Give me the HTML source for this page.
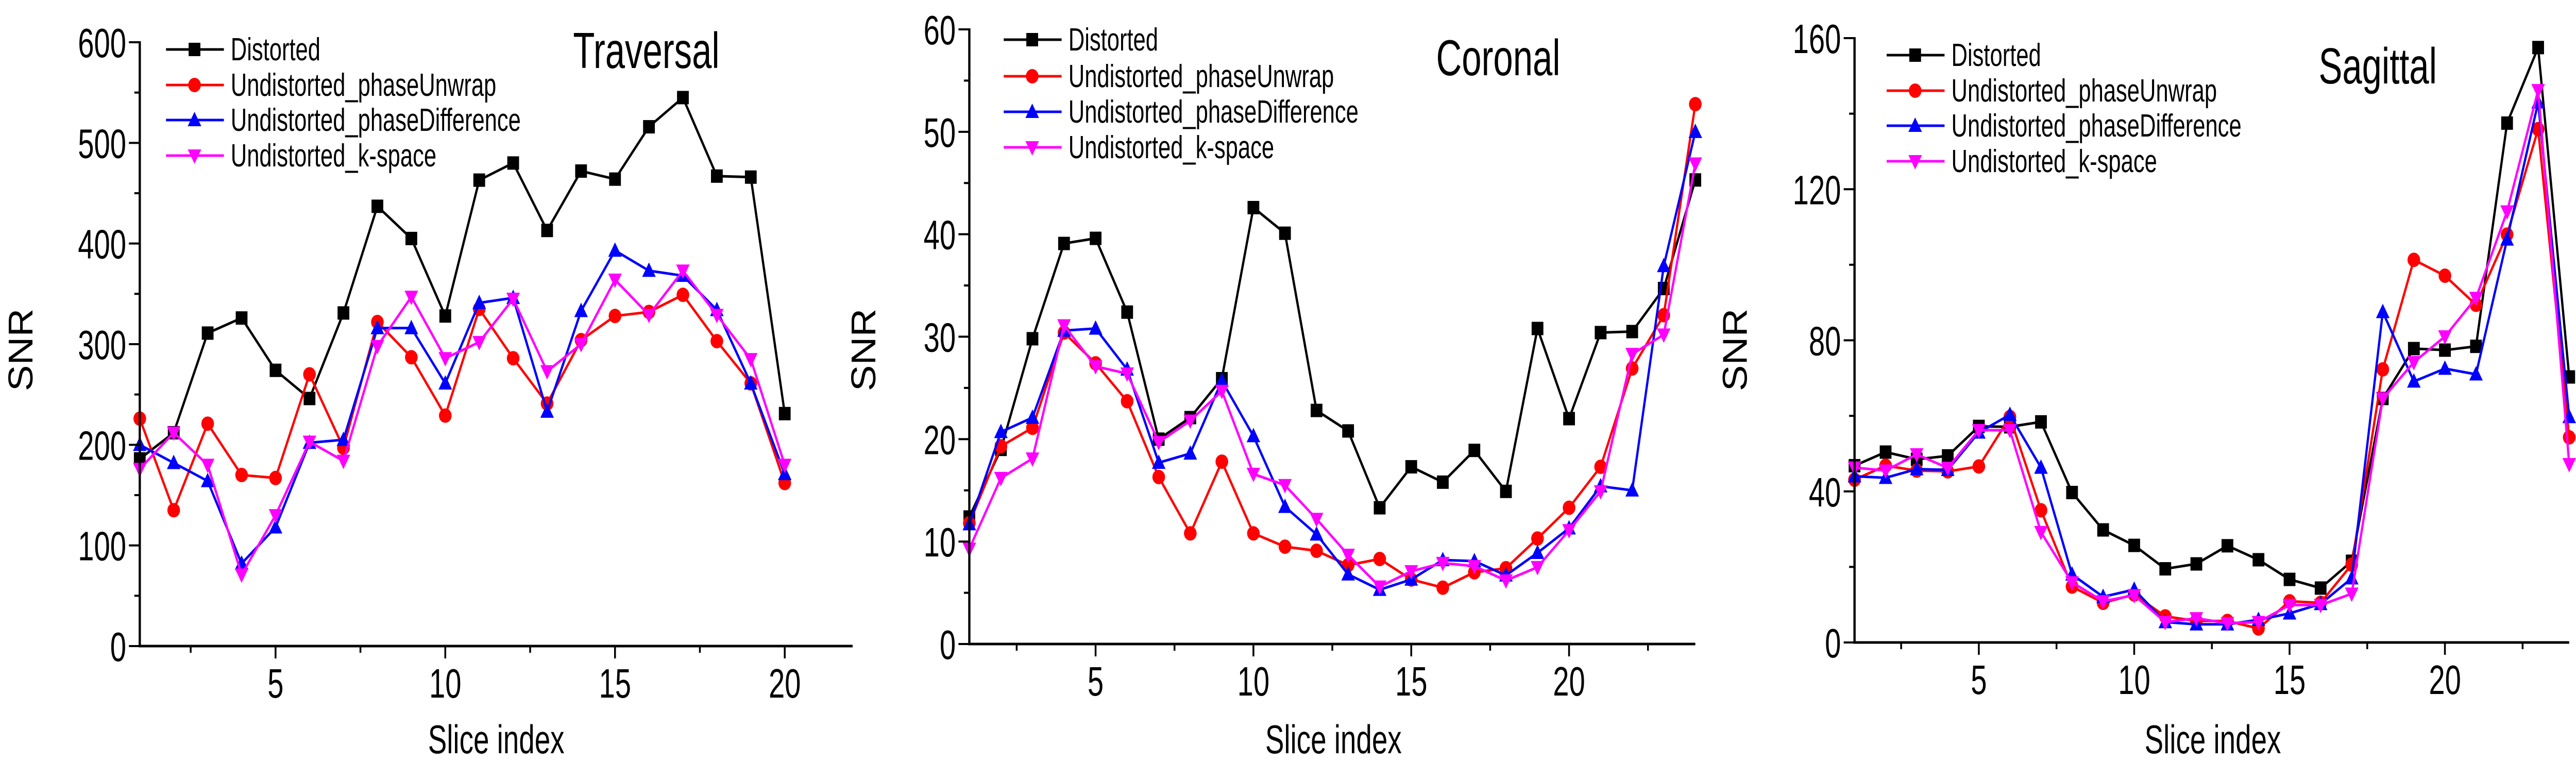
<!DOCTYPE html>
<html><head><meta charset="utf-8">
<style>
html,body{margin:0;padding:0;background:#fff;width:100%;height:100%;overflow:hidden;}
svg{display:block;width:100vw;height:100vh;}
text{font-family:"Liberation Sans",sans-serif;fill:#000;}
</style></head>
<body>
<svg id="chart" viewBox="0 0 5695 1479" preserveAspectRatio="none" xmlns="http://www.w3.org/2000/svg"></svg>
<script>
// ---- data ----
const seriesNames = ["Distorted","Undistorted_phaseUnwrap","Undistorted_phaseDifference","Undistorted_k-space"];
const travDistorted = [186,212,311,326,274,246,331,437,405,328,463,480,413,472,464,516,545,467,466,231];
const travUnwrap = [226,135,221,170,167,270,197,322,287,229,335,286,241,304,328,332,349,303,261,162];
const travDiff = [200,182,164,82,118,202,205,316,316,261,341,346,233,333,393,373,368,334,261,171];
const travKspace = [176,212,180,71,130,203,184,298,347,286,302,345,273,300,364,329,373,329,285,180];
const corDistorted = [12.4,19.0,29.8,39.1,39.6,32.4,20.0,22.1,25.9,42.6,40.1,22.8,20.8,13.3,17.3,15.8,18.9,14.9,30.8,22.0,30.4,30.5,34.7,45.3];
const corUnwrap = [11.8,19.3,21.1,30.4,27.4,23.7,16.3,10.8,17.8,10.8,9.5,9.1,7.7,8.3,6.3,5.5,7.0,7.4,10.3,13.3,17.3,26.9,32.1,52.7];
const corDiff = [11.7,20.7,22.1,30.6,30.8,26.8,17.7,18.6,25.7,20.3,13.4,10.7,6.8,5.3,6.3,8.2,8.1,6.7,8.9,11.3,15.4,15.0,36.9,50.0];
const corKspace = [9.3,16.2,18.1,31.1,27.1,26.4,19.7,21.8,24.7,16.6,15.5,12.2,8.7,5.6,7.1,7.9,7.6,6.2,7.5,11.1,14.9,28.3,30.2,46.9];
const sagDistorted = [46.8,50.4,48.5,49.4,57.2,57.1,58.4,39.7,29.8,25.7,19.5,20.8,25.6,21.9,16.7,14.4,21.5,64.6,77.8,77.4,78.4,137.5,157.5,70.3];
const sagUnwrap = [43.1,46.8,45.5,45.3,46.6,59.7,35.0,14.8,10.5,12.7,6.9,5.7,5.7,3.7,10.9,10.5,20.6,72.3,101.3,97.1,89.4,108.0,135.9,54.3];
const sagDiff = [44.0,43.6,45.9,45.7,55.6,60.3,46.3,18.0,12.1,14.0,5.4,4.8,4.8,6.0,7.7,10.2,17.0,87.5,69.1,72.5,71.0,106.7,143.0,59.7];
const sagKspace = [46.3,45.5,49.8,46.2,56.2,56.2,29.2,15.9,10.9,12.5,5.4,6.4,5.1,5.4,9.9,9.9,12.9,64.6,74.2,81.0,91.2,114.1,146.2,47.2];
const travYTicks = [0,100,200,300,400,500,600];
const corYTicks = [0,10,20,30,40,50,60];
const sagYTicks = [0,40,80,120,160];
const xTicks = [5,10,15,20];

const NS = "http://www.w3.org/2000/svg";
const svg = document.getElementById('chart');
const colors = ["#000000","#ff0000","#0000ff","#ff00ff"];
const markers = ["square","circle","up","down"];
const NARROW = 0.8;

function mk(tag, attrs, parent){
  const e = document.createElementNS(NS, tag);
  for (const k in attrs) e.setAttribute(k, attrs[k]);
  (parent||svg).appendChild(e);
  return e;
}
function ntext(parent, x, y, anchor, size, str){
  const t = mk('text',{x:0,y:0,'text-anchor':anchor,'font-size':size,transform:`translate(${x},${y}) scale(${NARROW},1)`},parent);
  t.textContent = str;
  return t;
}
function marker(g, type, cx, cy, col){
  let e;
  if (type==="square") e = mk('rect',{x:cx-13,y:cy-13,width:26,height:26,fill:col},g);
  else if (type==="circle") e = mk('circle',{cx:cx,cy:cy,r:14,fill:col},g);
  else if (type==="up") e = mk('polygon',{points:`${cx},${cy-16} ${cx+15},${cy+12} ${cx-15},${cy+12}`,fill:col},g);
  else e = mk('polygon',{points:`${cx},${cy+16} ${cx+15},${cy-12} ${cx-15},${cy-12}`,fill:col},g);
  return e;
}

function panel(cfg){
  const g = mk('g',{});
  
  
  const X = v => cfg.x0 + (v - cfg.xmin)/(cfg.xmax - cfg.xmin)*(cfg.x1 - cfg.x0);
  const Y = v => cfg.y0 - (v - 0)/(cfg.ymax)*(cfg.y0 - cfg.y1);
  cfg.series.forEach((vals, si) => {
    const sg = mk('g',{},g);
    
    
    const pts = vals.map((v,i)=>X(i+1)+','+Y(v)).join(' ');
    const pl = mk('polyline',{points:pts,fill:'none',stroke:colors[si],'stroke-width':5,'stroke-linejoin':'round'},sg);
    
    
    vals.forEach((v,i)=>{
      const m = marker(sg, markers[si], X(i+1), Y(v), colors[si]);
      
      
    });
  });
  const ax = mk('path',{d:`M${cfg.x0},${cfg.y1-2} L${cfg.x0},${cfg.y0} L${cfg.x1},${cfg.y0}`,fill:'none',stroke:'#000','stroke-width':5},g);
  
  
  cfg.yticks.forEach(t=>{
    mk('line',{x1:cfg.x0-24,x2:cfg.x0,y1:Y(t),y2:Y(t),stroke:'#000','stroke-width':4},g);
    const tx = ntext(g, cfg.x0-30, Y(t)+29, 'end', 80, String(t));
    
    
  });
  for (let i=0;i<cfg.yticks.length-1;i++){
    const m=(cfg.yticks[i]+cfg.yticks[i+1])/2;
    mk('line',{x1:cfg.x0-12,x2:cfg.x0,y1:Y(m),y2:Y(m),stroke:'#000','stroke-width':4},g);
  }
  xTicks.forEach(t=>{
    mk('line',{x1:X(t),x2:X(t),y1:cfg.y0,y2:cfg.y0+24,stroke:'#000','stroke-width':4},g);
    const tx = ntext(g, X(t), cfg.y0+100, 'middle', 80, String(t));
    
    
  });
  for (let t=2.5; t<cfg.xmax; t+=5){
    mk('line',{x1:X(t),x2:X(t),y1:cfg.y0,y2:cfg.y0+13,stroke:'#000','stroke-width':4},g);
  }
  const xt = ntext(g, cfg.xtx, 1462, 'middle', 78, 'Slice index');
  
  
  const yt = mk('text',{x:0,y:0,'text-anchor':'middle','font-size':76,transform:`translate(${cfg.ytx},679) rotate(-90)`},g);
  yt.textContent = 'SNR';
  
  
  const lg = mk('g',{},g);
  
  
  seriesNames.forEach((n,si)=>{
    const y = cfg.legY[si];
    mk('line',{x1:cfg.legX,x2:cfg.legX+128,y1:y,y2:y,stroke:colors[si],'stroke-width':5},lg);
    marker(lg, markers[si], cfg.legX+63, y, colors[si]);
    const tx = ntext(lg, cfg.legX+143, y+21, 'start', 62, n);
    
    
  });
  const title = ntext(g, cfg.titleX, cfg.titleY, 'start', 98, cfg.title);
  
  
}

panel({name:'traversal',title:'Traversal',x0:309,x1:1885,xmin:1,xmax:22,y0:1254,y1:82,ymax:600,yticks:travYTicks,
  series:[travDistorted,travUnwrap,travDiff,travKspace],legX:367,legY:[96,165,233,302],titleX:1267,titleY:132,xtx:1097,ytx:72});
panel({name:'coronal',title:'Coronal',x0:2143,x1:3748,xmin:1,xmax:24,y0:1250,y1:57,ymax:60,yticks:corYTicks,
  series:[corDistorted,corUnwrap,corDiff,corKspace],legX:2219,legY:[77,148,217,286],titleX:3175,titleY:146,xtx:2948,ytx:1935});
panel({name:'sagittal',title:'Sagittal',x0:4100,x1:5680,xmin:1,xmax:24,y0:1247,y1:74,ymax:160,yticks:sagYTicks,
  series:[sagDistorted,sagUnwrap,sagDiff,sagKspace],legX:4171,legY:[107,176,244,313],titleX:5126,titleY:162,xtx:4892,ytx:3862});
</script>
</body></html>
